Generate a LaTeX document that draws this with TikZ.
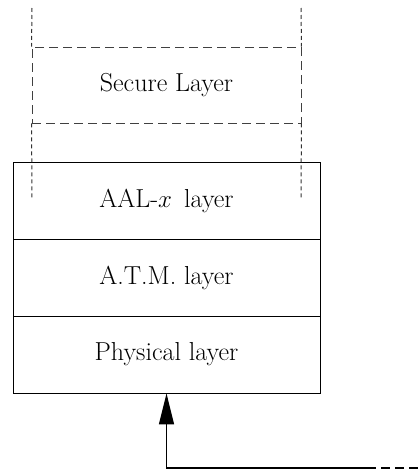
\documentclass[tikz,border=0pt]{standalone}
\usetikzlibrary{arrows.meta}
\begin{document}
\begin{tikzpicture}[x=1pt,y=-1pt,
  txt/.style={font=\fontsize{26}{30}\selectfont},
  layerbox/.style={draw=black, line width=0.8pt, minimum width=307pt, minimum height=77pt, inner sep=0pt, txt},
  dotline/.style={draw=black!80, line width=1pt, dash pattern=on 4pt off 3pt},
  dashline/.style={draw=black!75, line width=0.9pt, dash pattern=on 9pt off 5pt},
  conn/.style={line width=1.4pt}]
\useasboundingbox (0,0) rectangle (419,471);
\node[layerbox] (aal) at (166.5,200.5) {AAL-$x$\, layer};
\node[layerbox] (atm) at (166.5,277.5) {A.T.M. layer};
\node[layerbox] (phy) at (166.5,354.5) {Physical layer};
\node[dashline, minimum width=269pt, minimum height=76pt, inner sep=0pt, txt] (sec) at (166.5,85) {Secure Layer};
\coordinate (lt) at (32,8);
\coordinate (rt) at (301,8);
\coordinate (lb) at (32,200);
\coordinate (rb) at (301,200);
\draw[dotline] (lt) -- (sec.north west);
\draw[dotline] (rt) -- (sec.north east);
\draw[dotline] (sec.south west) -- (lb);
\draw[dotline] (sec.south east) -- (rb);
\coordinate (corner) at (166.5,468);
\coordinate (mid) at (367,468);
\coordinate (end) at (419,468);
\draw[conn, -{Triangle[length=31pt,width=15pt]}] (mid) -- (corner) -- (phy.south);
\draw[conn, dash pattern=on 9pt off 5pt] (mid) -- (end);
\end{tikzpicture}
\end{document}
